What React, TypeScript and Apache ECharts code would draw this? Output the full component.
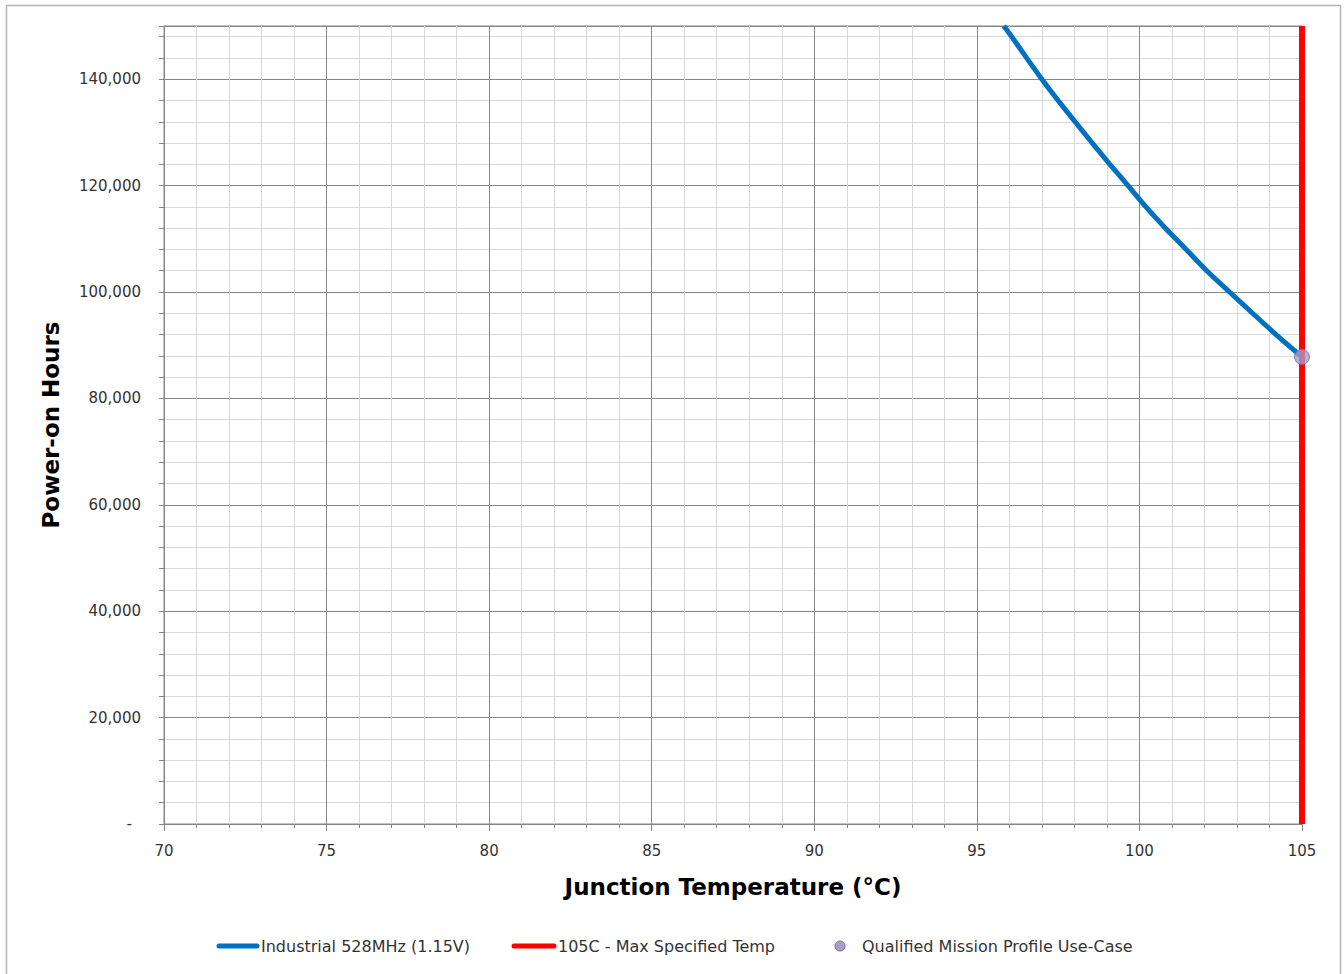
import React, { useEffect, useRef } from "react";
import * as echarts from "echarts";

// Junction temperature (°C) and power-on hours
const tempC = [95.83, 96.07, 96.53, 97.0, 97.5, 98.02, 98.55, 99.09, 99.65, 100.2, 100.8, 101.44, 102.07, 102.77, 103.48, 104.2, 105];
const hours = [150000, 148000, 144000, 140000, 136000, 132000, 128000, 124000, 120000, 116000, 112000, 108000, 104000, 100000, 96000, 92000, 87800];

// Max specified temperature line
const maxTempX = [105, 105];
const maxTempY = [0, 150000];

// Qualified mission profile point
const missionT = [105];
const missionH = [87800];

const seriesNames = ["Industrial 528MHz (1.15V)", "105C - Max Specified Temp", "Qualified Mission Profile Use-Case"];

const FONT = "DejaVu Sans";

export default function App() {
  const ref = useRef<HTMLDivElement>(null);
  useEffect(() => {
    if (!ref.current) return;
    const chart = echarts.init(ref.current, null, { renderer: "svg" });
    const major = "#868686";
    const minor = "#D9D9D9";
    const textColor = "#333333";
    const legendY = 946;
    const option: any = {
      animation: false,
      backgroundColor: "#ffffff",
      grid: {
        left: 164,
        right: 42,
        top: 26,
        bottom: 150,
        show: true,
        borderColor: major,
        borderWidth: 1,
      },
      xAxis: {
        type: "value",
        min: 70,
        max: 105,
        interval: 5,
        z: 2,
        name: "Junction Temperature (°C)",
        nameLocation: "middle",
        nameGap: 51,
        nameTextStyle: { fontFamily: FONT, fontWeight: "bold", fontSize: 23, color: "#000" },
        axisLine: { show: true, lineStyle: { color: major, width: 1 } },
        axisTick: { show: true, inside: false, length: 7, lineStyle: { color: major } },
        minorTick: { show: true, splitNumber: 5, length: 4, lineStyle: { color: major } },
        splitLine: { show: true, lineStyle: { color: major, width: 1 } },
        minorSplitLine: { show: true, lineStyle: { color: minor, width: 1 } },
        axisLabel: { margin: 19, fontFamily: FONT, fontSize: 15, color: textColor },
      },
      yAxis: [
        {
          type: "value",
          position: "left",
          min: 0,
          max: 150000,
          interval: 20000,
          z: 2,
          name: "Power-on Hours",
          nameLocation: "middle",
          nameGap: 102,
          nameRotate: 90,
          nameTextStyle: { fontFamily: FONT, fontWeight: "bold", fontSize: 23, color: "#000" },
          axisLine: { show: true, lineStyle: { color: major, width: 1 } },
          axisTick: { show: true, inside: false, length: 5, lineStyle: { color: major } },
          splitLine: { show: true, lineStyle: { color: major, width: 1 } },
          axisLabel: {
            margin: 23,
            fontFamily: FONT,
            fontSize: 15,
            color: textColor,
            formatter: (v: number) => {
              if (v >= 150000) return "";
              if (v === 0) return "{d|-}";
              return v.toLocaleString("en-US");
            },
            rich: { d: { padding: [0, 9, 0, 0], fontFamily: FONT, fontSize: 15, color: textColor } },
          },
        },
        {
          type: "value",
          position: "left",
          min: 0,
          max: 150000,
          interval: 4000,
          z: 0,
          axisLine: { show: false },
          axisTick: { show: true, inside: false, length: 5, lineStyle: { color: major } },
          axisLabel: { show: false },
          splitLine: { show: true, showMaxLine: false, lineStyle: { color: minor, width: 1 } },
        },
      ],
      series: [
        {
          name: seriesNames[0],
          type: "line",
          yAxisIndex: 0,
          data: tempC.map((t, i) => [t, hours[i]]),
          showSymbol: false,
          symbol: "none",
          smooth: 0.2,
          lineStyle: { color: "#0070C0", width: 5 },
          z: 3,
        },
        {
          name: seriesNames[1],
          type: "line",
          yAxisIndex: 0,
          data: maxTempX.map((t, i) => [t, maxTempY[i]]),
          showSymbol: false,
          symbol: "none",
          lineStyle: { color: "#FF0000", width: 6 },
          z: 4,
        },
        {
          name: seriesNames[2],
          type: "scatter",
          yAxisIndex: 0,
          data: missionT.map((t, i) => [t, missionH[i]]),
          symbol: "circle",
          symbolSize: 15,
          itemStyle: { color: "#A99CC9", borderColor: "#7E6AA3", borderWidth: 1 },
          z: 5,
        },
      ],
      graphic: [
        {
          type: "rect",
          silent: true,
          shape: { x: 6.5, y: 5.5, width: 1334, height: 1000 },
          style: { fill: "none", stroke: "#B4B4B4", lineWidth: 1.5 },
        },
        {
          type: "line",
          silent: true,
          shape: { x1: 219, y1: legendY, x2: 257, y2: legendY },
          style: { stroke: "#0070C0", lineWidth: 5, lineCap: "round" },
        },
        {
          type: "text",
          silent: true,
          x: 261,
          y: legendY,
          style: { text: seriesNames[0], fontFamily: FONT, fontSize: 16, fill: textColor, verticalAlign: "middle", align: "left" },
        },
        {
          type: "line",
          silent: true,
          shape: { x1: 514, y1: legendY, x2: 554, y2: legendY },
          style: { stroke: "#FF0000", lineWidth: 5, lineCap: "round" },
        },
        {
          type: "text",
          silent: true,
          x: 558,
          y: legendY,
          style: { text: seriesNames[1], fontFamily: FONT, fontSize: 16, fill: textColor, verticalAlign: "middle", align: "left" },
        },
        {
          type: "circle",
          silent: true,
          shape: { cx: 840, cy: legendY, r: 5 },
          style: { fill: "#A99CC9", stroke: "#7E6AA3", lineWidth: 1 },
        },
        {
          type: "text",
          silent: true,
          x: 862,
          y: legendY,
          style: { text: seriesNames[2], fontFamily: FONT, fontSize: 16, fill: textColor, verticalAlign: "middle", align: "left" },
        },
      ],
    };
    chart.setOption(option);
    return () => chart.dispose();
  }, []);
  return (
    <div
      ref={ref}
      style={{ position: "fixed", left: 0, top: 0, width: 1344, height: 974, background: "#fff" }}
    />
  );
}
